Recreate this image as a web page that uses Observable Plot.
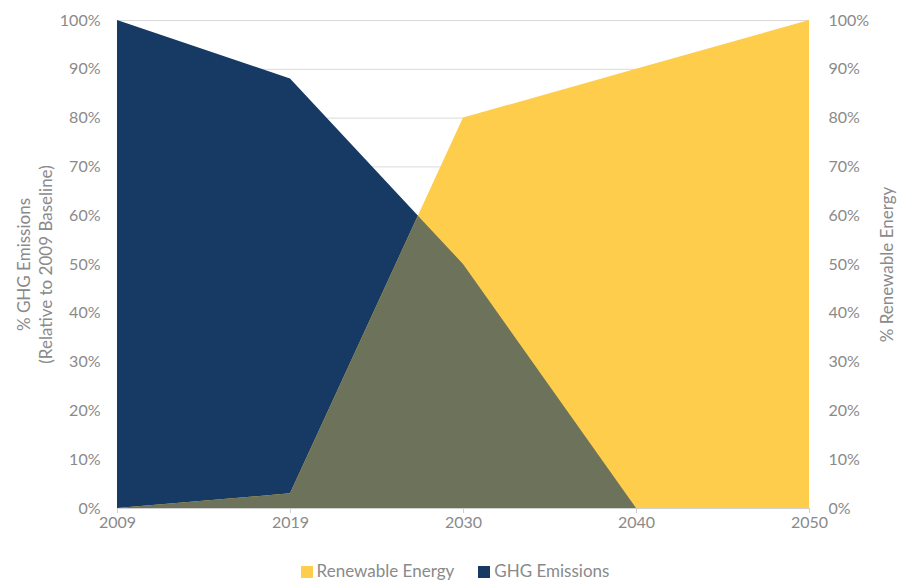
<!DOCTYPE html>
<html><head>
<meta charset="utf-8">
<script src="https://cdn.jsdelivr.net/npm/d3@7"></script>
<script src="https://cdn.jsdelivr.net/npm/@observablehq/plot@0.6"></script>
<style>
body{margin:0;background:#fff;font-family:Lato,"Open Sans",sans-serif;}
#legend{display:flex;justify-content:center;gap:24px;font-size:17px;color:#8a8a8a;margin-top:15px;padding-left:12px;}
#legend span.sw{display:inline-block;width:12px;height:12px;margin-right:4px;vertical-align:-1px;}
</style>
</head><body>
<div id="chart"></div>
<div id="legend"></div>
<script>
const years = ["2009", "2019", "2030", "2040", "2050"];
const ghgEmissions = [100, 88, 50, 0, 0];
const renewableEnergy = [0, 3, 80, 90, 100];
const yTicks = [0, 10, 20, 30, 40, 50, 60, 70, 80, 90, 100];

const navy = "#163a64", yellow = "#fdcd4b", olive = "#6d735a", textGray = "#8a8a8a";

const ghgData = years.map((y, i) => ({year: y, value: ghgEmissions[i]}));
const renData = years.map((y, i) => ({year: y, value: renewableEnergy[i]}));

const chart = Plot.plot({
  width: 898, height: 545,
  marginLeft: 117, marginRight: 89, marginTop: 20, marginBottom: 37,
  style: {fontFamily: "Lato, 'Open Sans', sans-serif", fontSize: "16px", color: textGray, background: "#fff"},
  x: {type: "point", domain: years, padding: 0, label: null},
  y: {domain: [0, 100], label: null},
  marks: [
    Plot.gridY(yTicks, {stroke: "#d9d9d9", strokeOpacity: 1}),
    Plot.areaY(ghgData, {x: "year", y: "value", fill: navy}),
    Plot.areaY(renData, {x: "year", y: "value", fill: yellow}),
    Plot.areaY(ghgData, {x: "year", y: "value", fill: olive}),
    Plot.ruleY([0], {stroke: "#d0d0d0"}),
    Plot.axisX(years, {tickSize: 5, stroke: "#d0d0d0", tickPadding: 3, fill: textGray, fontSize: 16, label: null}),
    Plot.axisY(yTicks, {anchor: "left", tickSize: 0, tickPadding: 17, tickFormat: d => d + "%", fill: textGray, fontSize: 16, label: null}),
    Plot.axisY(yTicks, {anchor: "right", tickSize: 0, tickPadding: 19, tickFormat: d => d + "%", fill: textGray, fontSize: 16, label: null}),
    Plot.text(["% GHG Emissions\n(Relative to 2009 Baseline)"], {frameAnchor: "left", textAnchor: "middle", lineAnchor: "middle", dx: -84, rotate: -90, fill: textGray, fontSize: 17, lineHeight: 1.3}),
    Plot.text(["% Renewable Energy"], {frameAnchor: "right", textAnchor: "middle", lineAnchor: "middle", dx: 78, rotate: -90, fill: textGray, fontSize: 17})
  ]
});

// clip the overlap layer (third area) to the renewable-energy area drawn by Plot
const areas = chart.querySelectorAll('g[aria-label="area"]');
if (areas.length >= 3) {
  const renPath = areas[1].querySelector("path");
  const ns = "http://www.w3.org/2000/svg";
  const defs = document.createElementNS(ns, "defs");
  const cp = document.createElementNS(ns, "clipPath");
  cp.setAttribute("id", "renClip");
  const p = document.createElementNS(ns, "path");
  p.setAttribute("d", renPath.getAttribute("d"));
  cp.appendChild(p);
  defs.appendChild(cp);
  chart.insertBefore(defs, chart.firstChild);
  areas[2].setAttribute("clip-path", "url(#renClip)");
}
document.getElementById("chart").appendChild(chart);

const legendItems = [{label: "Renewable Energy", color: yellow}, {label: "GHG Emissions", color: navy}];
document.getElementById("legend").innerHTML = legendItems
  .map(d => `<span><span class="sw" style="background:${d.color}"></span>${d.label}</span>`).join("");
</script>
</body></html>
